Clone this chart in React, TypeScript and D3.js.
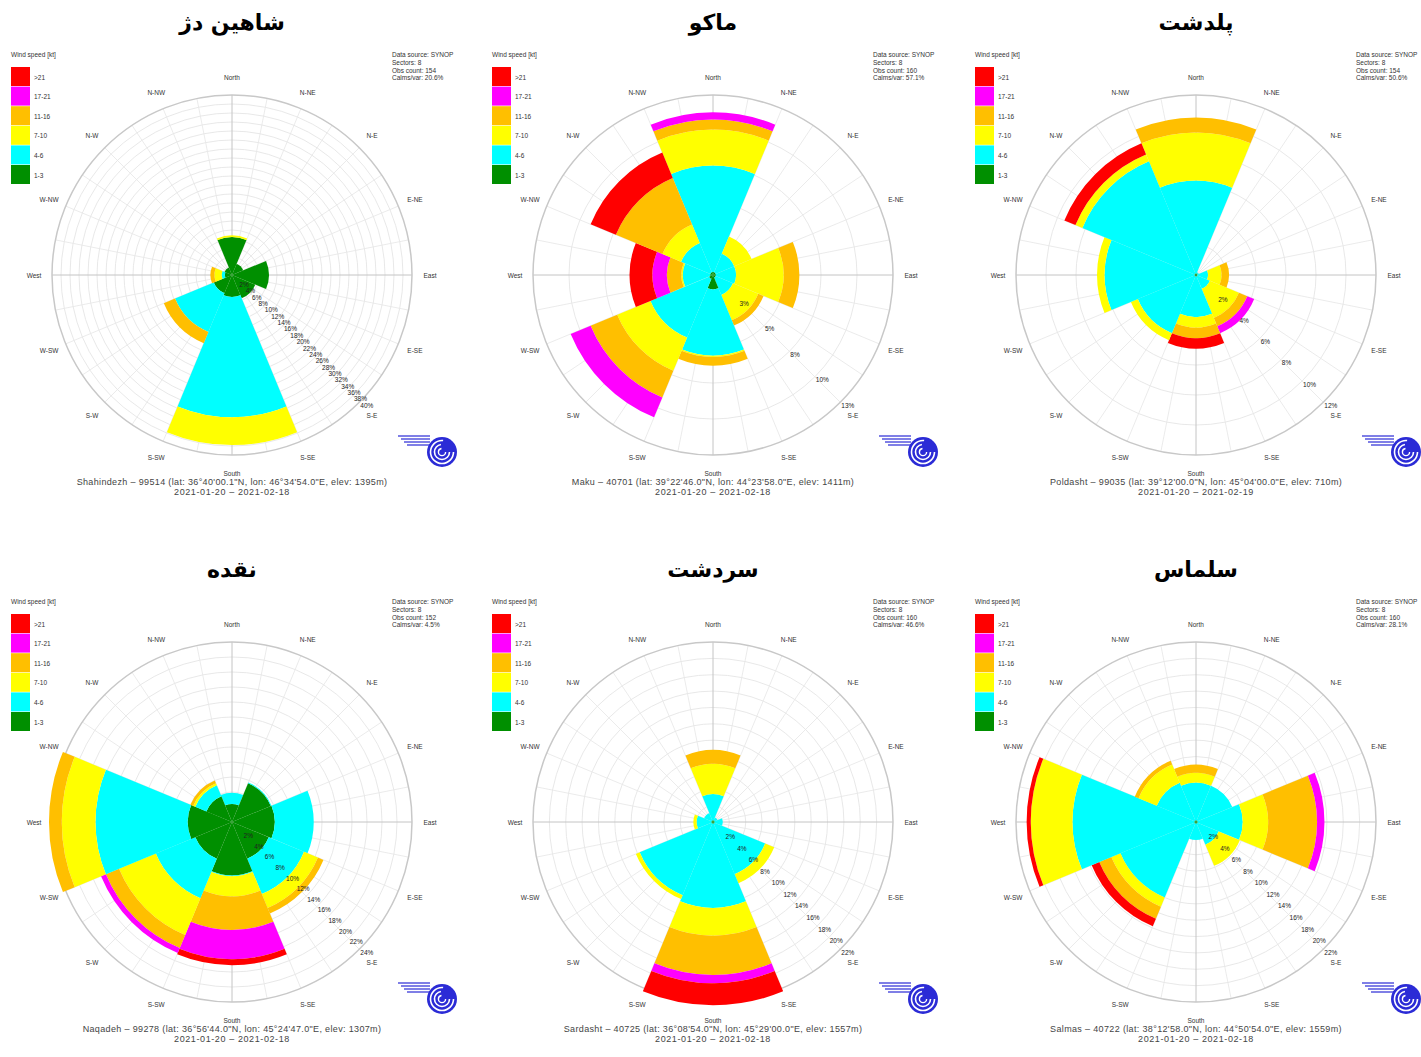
import React from 'react';
import * as d3 from 'd3';

// ---------- categories ----------
const sectorBearings = [0, 45, 90, 135, 180, 225, 270, 315];
const directionLabels = ["North", "N-NE", "N-E", "E-NE", "East", "E-SE", "S-E", "S-SE", "South", "S-SW", "S-W", "W-SW", "West", "W-NW", "N-W", "N-NW"];
const speedClasses = [">21", "17-21", "11-16", "7-10", "4-6", "1-3"];
const speedColors = ["#ff0000", "#ff00ff", "#ffbf00", "#ffff00", "#00ffff", "#008f00"]; // same order as speedClasses
// stacking order from center outward: 1-3, 4-6, 7-10, 11-16, 17-21, >21
const stackColors = ["#008f00", "#00ffff", "#ffff00", "#ffbf00", "#ff00ff", "#ff0000"];

// ---------- station meta ----------
const stationTitles = ["شاهین دژ", "ماکو", "پلدشت", "نقده", "سردشت", "سلماس"];
const stationFooters = [
  "Shahindezh – 99514 (lat: 36°40'00.1\"N, lon: 46°34'54.0\"E, elev: 1395m)",
  "Maku – 40701 (lat: 39°22'46.0\"N, lon: 44°23'58.0\"E, elev: 1411m)",
  "Poldasht – 99035 (lat: 39°12'00.0\"N, lon: 45°04'00.0\"E, elev: 710m)",
  "Naqadeh – 99278 (lat: 36°56'44.0\"N, lon: 45°24'47.0\"E, elev: 1307m)",
  "Sardasht – 40725 (lat: 36°08'54.0\"N, lon: 45°29'00.0\"E, elev: 1557m)",
  "Salmas – 40722 (lat: 38°12'58.0\"N, lon: 44°50'54.0\"E, elev: 1559m)",
];
const stationDates = [
  "2021-01-20 – 2021-02-18",
  "2021-01-20 – 2021-02-18",
  "2021-01-20 – 2021-02-19",
  "2021-01-20 – 2021-02-18",
  "2021-01-20 – 2021-02-18",
  "2021-01-20 – 2021-02-18",
];
const obsCounts = [154, 160, 154, 152, 160, 160];
const calmsPct = ["20.6%", "57.1%", "50.6%", "4.5%", "46.6%", "28.1%"];

// ---------- radial axis (outer circle value, ring labels) ----------
const axisMax = [40, 12.5, 12, 24, 22, 22];
const shahindezhRings = ["2%", "4%", "6%", "8%", "10%", "12%", "14%", "16%", "18%", "20%", "22%", "24%", "26%", "28%", "30%", "32%", "34%", "36%", "38%", "40%"];
const makuRings = ["3%", "5%", "8%", "10%", "13%"];
const poldashtRings = ["2%", "4%", "6%", "8%", "10%", "12%"];
const naqadehRings = ["2%", "4%", "6%", "8%", "10%", "12%", "14%", "16%", "18%", "20%", "22%", "24%"];
const sardashtRings = ["2%", "4%", "6%", "8%", "10%", "12%", "14%", "16%", "18%", "20%", "22%"];
const salmasRings = ["2%", "4%", "6%", "8%", "10%", "12%", "14%", "16%", "18%", "20%", "22%"];

// ---------- frequencies (%) : rows = speed class 1-3, 4-6, 7-10, 11-16, 17-21, >21 ; cols = N, NE, E, SE, S, SW, W, NW ----------
const shahindezhData = [
  [8.4, 2.7, 8.2, 5.6, 4.9, 4.4, 1.6, 1.8],
  [0, 0, 0, 0, 26.7, 9.3, 0.7, 0],
  [0.4, 0, 0, 0, 6.2, 0, 1.6, 0],
  [0, 0, 0, 0, 0, 2.7, 0.9, 0],
  [0, 0, 0, 0, 0, 0, 0, 0],
  [0, 0, 0, 0, 0, 0, 0, 0],
];
const makuData = [
  [0.2, 0.2, 0.2, 0.2, 1.0, 0.3, 0.2, 0.2],
  [7.4, 1.4, 1.4, 1.3, 4.6, 4.4, 1.9, 2.2],
  [2.5, 1.3, 3.3, 1.9, 0.1, 2.5, 0.1, 1.4],
  [0.7, 0, 1.1, 0.4, 0.6, 2.0, 1.0, 3.5],
  [0.5, 0, 0, 0, 0, 1.5, 1.0, 0],
  [0, 0, 0, 0, 0, 0, 1.6, 1.9],
];
const poldashtData = [
  [0.1, 0.1, 0.1, 0.1, 0.1, 0.1, 0.1, 0.1],
  [6.2, 0.1, 0.7, 0.9, 2.7, 4.1, 6.0, 8.1],
  [3.2, 0, 0.9, 2.1, 0.7, 0.5, 0.5, 0.5],
  [1.0, 0, 0.5, 0.6, 0.7, 0, 0, 0],
  [0, 0, 0, 0.5, 0, 0, 0, 0],
  [0, 0, 0, 0, 0.7, 0, 0, 0.8],
];
const naqadehData = [
  [2.4, 5.6, 5.7, 5.3, 7.1, 5.3, 5.9, 3.7],
  [1.5, 0.1, 5.2, 5.1, 0.1, 5.7, 12.3, 1.6],
  [0, 0, 0, 2.0, 2.7, 5.3, 4.5, 0.3],
  [0, 0, 0, 0.8, 4.5, 1.9, 1.7, 0.4],
  [0, 0, 0, 0, 3.9, 0.7, 0, 0],
  [0, 0, 0, 0, 0.8, 0, 0, 0],
];
const sardashtData = [
  [0.2, 0.2, 0.2, 0.2, 0.2, 0.2, 0.2, 0.2],
  [3.2, 0.4, 1.0, 6.7, 10.3, 9.5, 1.8, 1.0],
  [3.7, 0, 0, 1.2, 3.4, 0.5, 0.4, 0],
  [1.7, 0, 0, 0, 4.8, 0, 0, 0],
  [0, 0, 0, 0, 1.0, 0, 0, 0],
  [0, 0, 0, 0, 2.7, 0, 0, 0],
];
const salmasData = [
  [0.2, 0.2, 0.2, 0.2, 0.2, 0.2, 0.2, 0.2],
  [4.6, 4.6, 5.5, 2.8, 2.0, 9.8, 14.9, 5.0],
  [1.2, 0, 3.1, 2.8, 0, 1.2, 5.1, 2.4],
  [1.0, 0, 6.0, 0, 0, 1.6, 0, 0.5],
  [0, 0, 0.9, 0, 0, 0, 0, 0],
  [0, 0, 0, 0, 0, 1.0, 0.5, 0],
];

const allData = [shahindezhData, makuData, poldashtData, naqadehData, sardashtData, salmasData];
const allRings = [shahindezhRings, makuRings, poldashtRings, naqadehRings, sardashtRings, salmasRings];

// ---------- layout ----------
const W = 1421, H = 1057;
const panelX = [0, 481, 964];
const panelY = [0, 547];
const CX = 232, CY = 275, R = 180, LABEL_R = 198;
const SECTOR_HALF = 22.5;
const TXT = "'Liberation Sans', Arial, sans-serif";

const rad = (deg: number) => (deg * Math.PI) / 180;

function Logo({ x, y }: { x: number; y: number }) {
  const blue = "#2b2bd6";
  return (
    <g transform={`translate(${x},${y})`}>
      {[0, 1, 2, 3].map((i) => (
        <line key={i} x1={-44 + i * 3} y1={-16 + i * 3} x2={-12} y2={-16 + i * 3} stroke={blue} strokeWidth={1.2} />
      ))}
      <circle r={15} fill={blue} />
      <circle r={11.5} fill="none" stroke="#fff" strokeWidth={1.6} strokeDasharray="55 20" />
      <circle r={7.5} fill="none" stroke="#fff" strokeWidth={1.6} strokeDasharray="34 14" />
      <circle r={3.6} fill="none" stroke="#fff" strokeWidth={1.4} strokeDasharray="16 7" />
    </g>
  );
}

function WindRose({ idx }: { idx: number }) {
  const ox = panelX[idx % 3];
  const oy = panelY[Math.floor(idx / 3)];
  const cx = ox + CX, cy = oy + CY;
  const data = allData[idx];
  const rings = allRings[idx];
  const r = d3.scaleLinear().domain([0, axisMax[idx]]).range([0, R]);
  const ringStep = axisMax[idx] / rings.length;
  const arc = d3.arc<any>();
  const gridAngles = d3.range(0, 360, 11.25);

  const wedges: { d: string; color: string }[] = [];
  sectorBearings.forEach((b, si) => {
    let cum = 0;
    data.forEach((row, ci) => {
      const v = row[si];
      if (v > 0) {
        const d = arc({
          innerRadius: r(cum),
          outerRadius: r(cum + v),
          startAngle: rad(b - SECTOR_HALF),
          endAngle: rad(b + SECTOR_HALF),
        }) as string;
        wedges.push({ d, color: stackColors[ci] });
      }
      cum += v;
    });
  });

  const lblAngle = rad(135);

  return (
    <g>
      {/* title */}
      <text x={cx} y={oy + 22} textAnchor="middle" dominantBaseline="central" fontFamily="'DejaVu Sans', sans-serif" fontWeight="bold" fontSize={22} fill="#000" direction="rtl">
        {stationTitles[idx]}
      </text>

      <g transform={`translate(${cx},${cy})`}>
        {/* grid rings */}
        {d3.range(1, rings.length).map((k) => (
          <circle key={k} r={r(k * ringStep)} fill="none" stroke="#e2e2e2" strokeWidth={0.8} />
        ))}
        {/* radial lines */}
        {gridAngles.map((a) => {
          const cardinal = a % 90 === 0;
          return (
            <line key={a} x1={0} y1={0} x2={R * Math.sin(rad(a))} y2={-R * Math.cos(rad(a))} stroke={cardinal ? "#c4c4c4" : "#e6e6e6"} strokeWidth={cardinal ? 1 : 0.8} />
          );
        })}
        <circle r={R} fill="none" stroke="#c8c8c8" strokeWidth={1.5} />

        {/* wedges */}
        {wedges.map((w, i) => (
          <path key={i} d={w.d} fill={w.color} />
        ))}

        {/* ring labels */}
        {rings.map((t, k) => {
          const rr = r((k + 1) * ringStep);
          return (
            <text key={t + k} x={rr * Math.sin(lblAngle) + 1} y={-rr * Math.cos(lblAngle) + 3} fontFamily={TXT} fontSize={6.5} fill="#222" dominantBaseline="central">
              {t}
            </text>
          );
        })}

        {/* direction labels */}
        {directionLabels.map((t, k) => {
          const a = rad(k * 22.5);
          return (
            <text key={t} x={LABEL_R * Math.sin(a)} y={-LABEL_R * Math.cos(a)} textAnchor="middle" dominantBaseline="central" fontFamily={TXT} fontSize={6.5} fill="#333">
              {t}
            </text>
          );
        })}
      </g>

      {/* legend */}
      <text x={ox + 11} y={oy + 57} fontFamily={TXT} fontSize={6.5} fill="#333">Wind speed [kt]</text>
      {speedClasses.map((s, k) => (
        <g key={s}>
          <rect x={ox + 11} y={oy + 67 + k * 19.6} width={19} height={19} fill={speedColors[k]} />
          <text x={ox + 34} y={oy + 77 + k * 19.6} fontFamily={TXT} fontSize={6.5} fill="#333" dominantBaseline="central">{s}</text>
        </g>
      ))}

      {/* info */}
      {["Data source: SYNOP", "Sectors: 8", `Obs count: ${obsCounts[idx]}`, `Calms/var: ${calmsPct[idx]}`].map((t, k) => (
        <text key={k} x={ox + 392} y={oy + 57 + k * 7.8} fontFamily={TXT} fontSize={6.5} fill="#333">{t}</text>
      ))}

      {/* footer */}
      <text x={cx} y={oy + 485} textAnchor="middle" fontFamily={TXT} fontSize={9} letterSpacing={0.35} fill="#444">{stationFooters[idx]}</text>
      <text x={cx} y={oy + 495} textAnchor="middle" fontFamily={TXT} fontSize={9} letterSpacing={0.6} fill="#444">{stationDates[idx]}</text>

      <Logo x={ox + 442} y={oy + 452} />
    </g>
  );
}

export default function App() {
  return (
    <div style={{ position: 'absolute', left: 0, top: 0, width: W, height: H, background: '#fff' }}>
      <svg width={W} height={H} viewBox={`0 0 ${W} ${H}`} style={{ display: 'block' }}>
        <rect width={W} height={H} fill="#fff" />
        {[0, 1, 2, 3, 4, 5].map((i) => (
          <WindRose key={i} idx={i} />
        ))}
      </svg>
    </div>
  );
}
